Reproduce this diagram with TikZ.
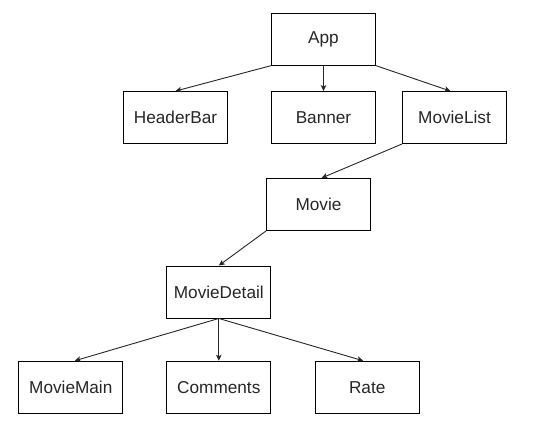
\documentclass[tikz,border=0pt]{standalone}
\usepackage{fontspec}
\setmainfont{Liberation Sans}
\usetikzlibrary{arrows.meta}
\begin{document}
\begin{tikzpicture}[x=1pt,y=-1pt,
  box/.style={draw=black,line width=0.9pt,minimum width=104pt,minimum height=52pt,inner sep=0pt,
    font=\fontsize{17.2}{20}\selectfont,text=black!85},
  conn/.style={draw=black!85,line width=0.9pt,-{Stealth[length=6pt,width=5.5pt,inset=1.5pt]}}]
\useasboundingbox (0,0) rectangle (537,434);
\node[box] (app) at (323.5,39.2) {App};
\node[box] (hb) at (175.5,117.5) {HeaderBar};
\node[box] (ban) at (323.5,117.5) {Banner};
\node[box] (ml) at (454.5,117.5) {MovieList};
\node[box] (mov) at (318.5,204.5) {Movie};
\node[box] (md) at (218.8,292) {MovieDetail};
\node[box] (mm) at (70.8,387.2) {MovieMain};
\node[box] (com) at (218.8,387.2) {Comments};
\node[box] (rate) at (367.2,387.2) {Rate};
\draw[conn] (app.south west) -- (hb.north);
\draw[conn] (app.south) -- (ban.north);
\draw[conn] (app.south east) -- ([xshift=-4pt]ml.north);
\draw[conn] (ml.south west) -- ([xshift=3pt]mov.north);
\draw[conn] (mov.south west) -- (md.north);
\draw[conn] (md.south) -- ([xshift=4pt]mm.north);
\draw[conn] (md.south) -- (com.north);
\draw[conn] (md.south) -- ([xshift=-4pt]rate.north);
\end{tikzpicture}
\end{document}
